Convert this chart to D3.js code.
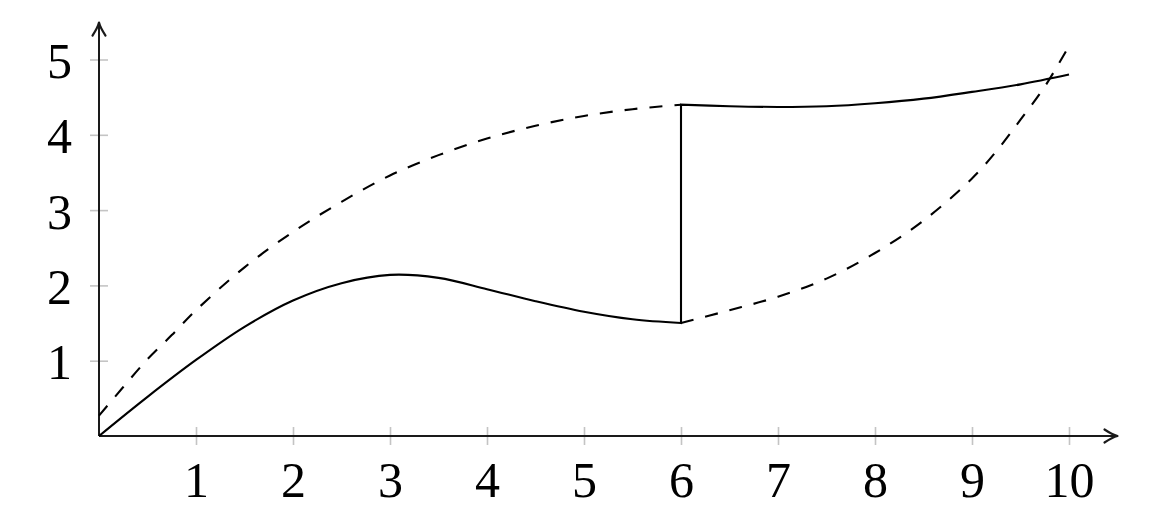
<!DOCTYPE html>
<html>
<head>
<meta charset="utf-8">
<script src="https://cdn.jsdelivr.net/npm/d3@7"></script>
<style>
  html, body { margin: 0; padding: 0; background: #fff; }
  svg { display: block; }
  .lbl { font-family: "Liberation Serif", "DejaVu Serif", serif; font-size: 50px; fill: #000; }
</style>
</head>
<body>
<svg id="chart" width="1176" height="530"></svg>
<script>
// ---- data ----
const xTicks = [1, 2, 3, 4, 5, 6, 7, 8, 9, 10];
const yTicks = [1, 2, 3, 4, 5];
const xTickLabels = ["1", "2", "3", "4", "5", "6", "7", "8", "9", "10"];
const yTickLabels = ["1", "2", "3", "4", "5"];

// solid curve, before the jump at x = 6
const solidLeftX = [0, 0.5, 1, 1.5, 2, 2.5, 3, 3.5, 4, 4.5, 5, 5.5, 6];
const solidLeftY = [0, 0.52, 1.01, 1.45, 1.8, 2.03, 2.14, 2.1, 1.95, 1.79, 1.65, 1.55, 1.5];
// solid curve, after the jump at x = 6
const solidRightX = [6, 6.5, 7, 7.5, 8, 8.5, 9, 9.5, 10];
const solidRightY = [4.4, 4.38, 4.37, 4.38, 4.42, 4.48, 4.57, 4.67, 4.8];
// dashed curve, first branch
const dashLeftX = [0, 0.25, 0.5, 0.75, 1, 1.5, 2, 2.5, 3, 3.5, 4, 4.5, 5, 5.5, 6];
const dashLeftY = [0.27, 0.65, 1.02, 1.34, 1.67, 2.24, 2.71, 3.11, 3.46, 3.73, 3.95, 4.12, 4.25, 4.34, 4.4];
// dashed curve, second branch
const dashRightX = [6, 6.5, 7, 7.5, 8, 8.5, 9, 9.25, 9.5, 9.75, 10];
const dashRightY = [1.5, 1.67, 1.85, 2.09, 2.43, 2.86, 3.42, 3.78, 4.2, 4.64, 5.18];

// ---- layout ----
const svg = d3.select("#chart");
const x = d3.scaleLinear().domain([0, 10]).range([99, 1069]);
const y = d3.scaleLinear().domain([0, 5]).range([436, 59.5]);
const xMax = 10.5, yMax = 5.49;

const zip = (xs, ys) => xs.map((v, i) => [v, ys[i]]);
const line = d3.line().x(d => x(d[0])).y(d => y(d[1])).curve(d3.curveCatmullRom.alpha(0.5));

// ticks (gray, crossing the axes)
const xAxis = d3.axisBottom(x).tickValues(xTicks).tickSizeInner(9).tickSizeOuter(0).tickFormat((d, i) => xTickLabels[i]);
const gx = svg.append("g").attr("transform", `translate(0,${y(0)})`).call(xAxis);
gx.select(".domain").remove();
gx.selectAll(".tick line").attr("y1", -9).attr("y2", 9).attr("stroke", "#c4c4c4").attr("stroke-width", 1.6);
gx.selectAll(".tick text").attr("class", "lbl").attr("y", 61).attr("dy", null)
  .attr("text-anchor", "middle");
gx.attr("font-size", null).attr("font-family", null);

const yAxis = d3.axisLeft(y).tickValues(yTicks).tickSizeInner(9).tickSizeOuter(0).tickFormat((d, i) => yTickLabels[i]);
const gy = svg.append("g").attr("transform", `translate(${x(0)},0)`).call(yAxis);
gy.select(".domain").remove();
gy.selectAll(".tick line").attr("x1", -9).attr("x2", 9).attr("stroke", "#c4c4c4").attr("stroke-width", 1.6);
gy.selectAll(".tick text").attr("class", "lbl").attr("x", -27).attr("dy", null).attr("y", 18)
  .attr("text-anchor", "end");
gy.attr("font-size", null).attr("font-family", null);

// axis lines with arrow tips
const axisColor = "#1a1a1a";
svg.append("line").attr("x1", x(0)).attr("y1", y(0)).attr("x2", x(xMax)).attr("y2", y(0))
  .attr("stroke", axisColor).attr("stroke-width", 2);
svg.append("line").attr("x1", x(0)).attr("y1", y(0)).attr("x2", x(0)).attr("y2", y(yMax))
  .attr("stroke", axisColor).attr("stroke-width", 2);
function arrow(tx, ty, angle) {
  svg.append("path")
    .attr("d", "M-13,-6.5 Q-5,-1.2 0,0 Q-5,1.2 -13,6.5")
    .attr("transform", `translate(${tx},${ty}) rotate(${angle})`)
    .attr("fill", "none").attr("stroke", axisColor).attr("stroke-width", 2.2)
    .attr("stroke-linecap", "round").attr("stroke-linejoin", "round");
}
arrow(x(xMax), y(0), 0);
arrow(x(0), y(yMax), -90);

// curves
const solidPath = line(zip(solidLeftX, solidLeftY)) + line(zip(solidRightX, solidRightY)).replace(/^M/, "L");
svg.append("path").attr("d", solidPath).attr("fill", "none").attr("stroke", "#000")
  .attr("stroke-width", 2.1).attr("stroke-linejoin", "miter");

[zip(dashLeftX, dashLeftY), zip(dashRightX, dashRightY)].forEach(pts => {
  svg.append("path").attr("d", line(pts)).attr("fill", "none").attr("stroke", "#000")
    .attr("stroke-width", 2.1).attr("stroke-dasharray", "13,12");
});
</script>
</body>
</html>
